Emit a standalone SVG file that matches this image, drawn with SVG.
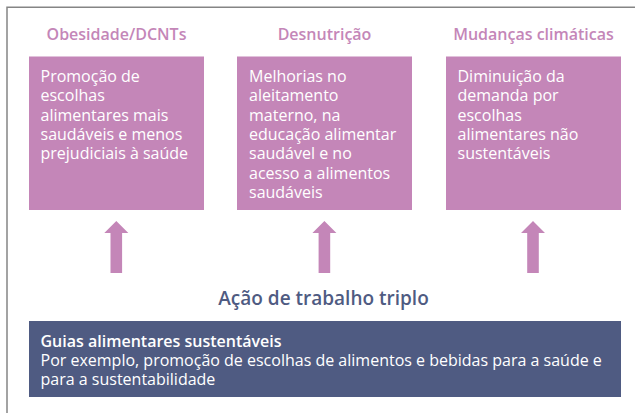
<svg xmlns="http://www.w3.org/2000/svg" width="635" height="413" viewBox="0 0 635 413">
<defs>
<style>
.frame{fill:none;stroke:#858585;stroke-width:1.5}
.box{fill:#c486b8}
.hdr{font-family:"Open Sans","Noto Sans",sans-serif;font-size:16px;font-weight:600;fill:#c486b8;text-anchor:middle}
.body{font-family:"Open Sans","Noto Sans",sans-serif;font-size:16px;fill:#ffffff}
.arrow{fill:#c486b8}
.mid{font-family:"Open Sans","Noto Sans",sans-serif;font-size:19px;font-weight:600;fill:#4f5b82;text-anchor:middle}
.dark{fill:#4f5b82}
.dtxt{font-family:"Open Sans","Noto Sans",sans-serif;font-size:16px;fill:#ffffff}
</style>
<path id="arr" d="M-5.8,52 L-5.8,12 L-12,12 L0,0 L12,12 L5.8,12 L5.8,52 Z"/>
</defs>
<rect width="635" height="413" fill="#ffffff"/>
<path class="frame" d="M636,7.3 L7,7.3 L7,414"/>
<g id="node-obesidade">
<text class="hdr" x="116.5" y="40">Obesidade/DCNTs</text>
<rect class="box" x="29" y="56.5" width="175" height="153.5"/>
<text class="body" x="40.5" y="82">
<tspan x="40.5" y="82">Promoção de</tspan>
<tspan x="40.5" y="101.3">escolhas</tspan>
<tspan x="40.5" y="120.6">alimentares mais</tspan>
<tspan x="40.5" y="139.9">saudáveis e menos</tspan>
<tspan x="40.5" y="159.2">prejudiciais à saúde</tspan>
</text>
</g>
<g id="node-desnutricao">
<text class="hdr" x="324.5" y="40">Desnutrição</text>
<rect class="box" x="237" y="56.5" width="175" height="153.5"/>
<text class="body" x="249" y="82">
<tspan x="249" y="82">Melhorias no</tspan>
<tspan x="249" y="101.3">aleitamento</tspan>
<tspan x="249" y="120.6">materno, na</tspan>
<tspan x="249" y="139.9">educação alimentar</tspan>
<tspan x="249" y="159.2">saudável e no</tspan>
<tspan x="249" y="178.5">acesso a alimentos</tspan>
<tspan x="249" y="197.8">saudáveis</tspan>
</text>
</g>
<g id="node-clima">
<text class="hdr" x="533.5" y="40">Mudanças climáticas</text>
<rect class="box" x="446" y="56.5" width="175" height="153.5"/>
<text class="body" x="457.5" y="82">
<tspan x="457.5" y="82">Diminuição da</tspan>
<tspan x="457.5" y="101.3">demanda por</tspan>
<tspan x="457.5" y="120.6">escolhas</tspan>
<tspan x="457.5" y="139.9">alimentares não</tspan>
<tspan x="457.5" y="159.2">sustentáveis</tspan>
</text>
</g>
<g id="connectors">
<use href="#arr" class="arrow" x="116.3" y="221"/>
<use href="#arr" class="arrow" x="324.4" y="221"/>
<use href="#arr" class="arrow" x="533" y="221"/>
</g>
<g id="node-acao">
<text class="mid" x="323.5" y="304.5">Ação de trabalho triplo</text>
</g>
<g id="node-guias">
<rect class="dark" x="29" y="321" width="592" height="76"/>
<text class="dtxt" x="40.5" y="346.5" font-weight="600">Guias alimentares sustentáveis</text>
<text class="dtxt" x="40.5" y="365.5">Por exemplo, promoção de escolhas de alimentos e bebidas para a saúde e</text>
<text class="dtxt" x="40.5" y="385">para a sustentabilidade</text>
</g>
</svg>
